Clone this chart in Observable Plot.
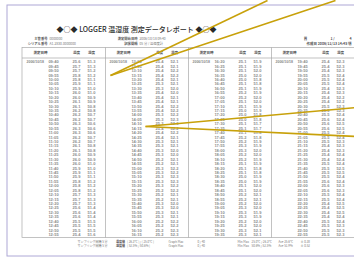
<!DOCTYPE html>
<html><head><meta charset="utf-8">
<script src="https://cdn.jsdelivr.net/npm/d3@7"></script>
<script src="https://cdn.jsdelivr.net/npm/@observablehq/plot@0.6"></script>
<style>html,body{margin:0;padding:0;background:#fff;}</style>
</head><body><div id="chart"></div>
<script>
// ---- data ----
const title = "◆○◆ LOGGER 温湿度 測定データレポート ◆○◆";
const dateLabel = "2006/10/18";
const headerLabels = ["測定日時", "温度", "湿度"];
const times1 = "09:40 09:45 09:50 09:55 10:00 10:05 10:10 10:15 10:20 10:25 10:30 10:35 10:40 10:45 10:50 10:55 11:00 11:05 11:10 11:15 11:20 11:25 11:30 11:35 11:40 11:45 11:50 11:55 12:00 12:05 12:10 12:15 12:20 12:25 12:30 12:35 12:40 12:45 12:50 12:55".split(" ");
const times2 = "13:00 13:05 13:10 13:15 13:20 13:25 13:30 13:35 13:40 13:45 13:50 13:55 14:00 14:05 14:10 14:15 14:20 14:25 14:30 14:35 14:40 14:45 14:50 14:55 15:00 15:05 15:10 15:15 15:20 15:25 15:30 15:35 15:40 15:45 15:50 15:55 16:00 16:05 16:10 16:15".split(" ");
const times3 = "16:20 16:25 16:30 16:35 16:40 16:45 16:50 16:55 17:00 17:05 17:10 17:15 17:20 17:25 17:30 17:35 17:40 17:45 17:50 17:55 18:00 18:05 18:10 18:15 18:20 18:25 18:30 18:35 18:40 18:45 18:50 18:55 19:00 19:05 19:10 19:15 19:20 19:25 19:30 19:35".split(" ");
const times4 = "19:40 19:45 19:50 19:55 20:00 20:05 20:10 20:15 20:20 20:25 20:30 20:35 20:40 20:45 20:50 20:55 21:00 21:05 21:10 21:15 21:20 21:25 21:30 21:35 21:40 21:45 21:50 21:55 22:00 22:05 22:10 22:15 22:20 22:25 22:30 22:35 22:40 22:45 22:50 22:55".split(" ");
const temp1 = [25.6,25.7,25.7,25.8,25.8,25.9,25.9,26.0,26.0,26.1,26.1,26.2,26.2,26.2,26.3,26.3,26.3,26.2,26.2,26.1,26.1,26.0,26.0,26.0,25.9,25.9,25.9,25.8,25.8,25.8,25.7,25.7,25.7,25.6,25.6,25.6,25.5,25.5,25.5,25.4];
const hum1 = [51.3,51.3,51.2,51.2,51.1,51.1,51.0,51.0,50.9,50.9,50.8,50.8,50.7,50.7,50.6,50.6,50.6,50.7,50.7,50.8,50.8,50.9,50.9,51.0,51.0,51.1,51.1,51.2,51.2,51.2,51.3,51.3,51.3,51.4,51.4,51.4,51.5,51.5,51.5,51.6];
const temp2 = [25.4,25.4,25.4,25.4,25.4,25.3,25.3,25.4,25.4,25.4,25.4,25.4,25.3,25.3,25.3,25.4,25.4,25.4,25.3,25.3,25.3,25.3,25.2,25.2,25.3,25.3,25.3,25.3,25.3,25.2,25.2,25.2,25.3,25.3,25.3,25.3,25.2,25.2,25.2,25.2];
const hum2 = [52.1,52.1,52.2,52.2,52.1,52.1,52.0,52.0,52.1,52.1,52.2,52.2,52.2,52.3,52.3,52.2,52.2,52.1,52.1,52.1,52.0,52.0,52.1,52.1,52.2,52.2,52.3,52.3,52.2,52.2,52.1,52.1,52.0,52.0,52.1,52.1,52.2,52.2,52.3,52.3];
const temp3 = [25.1,25.1,25.1,25.0,25.0,25.1,25.1,25.2,25.2,25.1,25.1,25.0,25.0,25.0,25.1,25.1,25.1,25.2,25.2,25.3,25.3,25.2,25.2,25.1,25.1,25.1,25.0,25.0,25.1,25.1,25.2,25.2,25.2,25.3,25.3,25.3,25.2,25.2,25.3,25.3];
const hum3 = [51.9,51.9,52.0,52.0,51.8,51.8,51.9,51.9,52.0,52.0,51.9,51.9,51.8,51.8,51.7,51.7,51.8,51.8,51.9,51.9,52.0,52.0,51.9,51.9,51.8,51.8,51.9,51.9,52.0,52.0,52.1,52.1,52.0,52.0,51.9,51.9,52.0,52.0,52.1,52.1];
const temp4 = [25.4,25.4,25.4,25.5,25.5,25.5,25.4,25.4,25.4,25.4,25.5,25.5,25.5,25.6,25.6,25.6,25.5,25.5,25.5,25.4,25.4,25.4,25.4,25.5,25.5,25.5,25.5,25.6,25.6,25.6,25.5,25.5,25.4,25.4,25.4,25.4,25.5,25.5,25.5,25.5];
const hum4 = [52.3,52.3,52.3,52.4,52.4,52.4,52.3,52.3,52.2,52.2,52.3,52.3,52.4,52.4,52.5,52.5,52.4,52.4,52.3,52.3,52.3,52.4,52.4,52.4,52.5,52.5,52.4,52.4,52.3,52.3,52.4,52.4,52.5,52.5,52.5,52.4,52.4,52.3,52.3,52.3];
const infoLabels = ["主管番号", "シリアル番号", "測定開始日時", "記録間隔"];
const infoValues = ["0000000", "A1-2XXX-0000000", "2006/10/18 09:40", "05 分 / 温湿度計"];
const pageText = ["頁", "1 /", "4"];
const createdText = "作成日 2006/11/13 14:45 頃";
const footer1 = ["サンプリング間隔 5 分", "温度値", "[ 26.3℃ ] / [ 25.0℃ ]", "Graph Max", "0 / 40", "Min Max", "25.0℃ / 26.3℃", "Ave 25.6℃", "± 0.38"];
const footer2 = ["サンプリング間隔 5 分", "湿度値", "[ 52.5% / 50.6% ]", "Graph Max", "0 / 40", "Min Max", "50.6% / 52.5%", "Ave 51.9%", "± 0.52"];

// ---- layout ----
const W = 354, H = 260;
const groupX = [22, 105, 188, 271];
const rowY0 = 61.5, rowDy = 4.43;
const cols = [[times1,temp1,hum1],[times2,temp2,hum2],[times3,temp3,hum3],[times4,temp4,hum4]];
const cells = [];
cols.forEach(([t, te, hu], g) => {
  t.forEach((tm, i) => {
    const y = rowY0 + i * rowDy;
    cells.push({x: groupX[g] + 31, y, text: tm});
    cells.push({x: groupX[g] + 54, y, text: te[i].toFixed(1)});
    cells.push({x: groupX[g] + 69, y, text: hu[i].toFixed(1)});
  });
});
const dates = groupX.map(x => ({x: x + 4, y: rowY0, text: dateLabel}));
const headers = [];
groupX.forEach(x => {
  headers.push({x: x + 18, y: 52.5, text: headerLabels[0]});
  headers.push({x: x + 54, y: 52.5, text: headerLabels[1]});
  headers.push({x: x + 69, y: 52.5, text: headerLabels[2]});
});
const infoL = [{x:47,y:38.5},{x:47,y:43},{x:137,y:38.5},{x:137,y:43}].map((p,i)=>({...p,text:infoLabels[i]}));
const infoV = [{x:49,y:38.5},{x:49,y:43},{x:139,y:38.5},{x:139,y:43}].map((p,i)=>({...p,text:infoValues[i]}));
const pageT = [{x:305,y:38},{x:332,y:38},{x:350,y:38}].map((p,i)=>({...p,text:pageText[i]}));
const footX = [107,115.5,126.5,168,197,237,251,278,300];
const foot = [];
[footer1, footer2].forEach((f, r) => f.forEach((s, i) => foot.push({x: footX[i], y: 241.5 + r*4.5, text: s, kind: i === 0 ? "left" : i === 1 ? "bold" : "plain"})));
const callouts = [
  {x1:110, y1:75, x2:267, y2:0},
  {x1:110, y1:75, x2:335, y2:0},
  {x1:145, y1:126, x2:356, y2:107},
  {x1:145, y1:126, x2:356, y2:136}
];
const jp = "Noto Sans CJK JP";

const chart = Plot.plot({
  width: W, height: H, margin: 0,
  x: {domain: [0, W], range: [0, W], axis: null},
  y: {domain: [0, H], range: [0, H], axis: null},
  style: {background: "#fff"},
  marks: [
    Plot.rect([0], {x1: 7, x2: 360, y1: 5, y2: 256, fill: "none", stroke: "#aea8d6", strokeWidth: 1}),
    Plot.rect([0], {x1: 22, x2: 360, y1: 47.5, y2: 237.5, fill: "none", stroke: "#a8a8a8", strokeWidth: 0.7}),
    Plot.ruleX(groupX.slice(1), {y1: 47.5, y2: 237.5, stroke: "#a8a8a8", strokeWidth: 0.7}),
    Plot.ruleY([57.5], {x1: 22, x2: 360, stroke: "#a8a8a8", strokeWidth: 0.7}),
    Plot.text([title], {x: 136, y: 29, text: d => d, fontSize: 7, fontFamily: jp, fill: "#2a2a2a", fontWeight: 500}),
    Plot.text(infoL, {x: "x", y: "y", text: "text", fontSize: 3.3, fontFamily: jp, fill: "#555", fontWeight: "bold", textAnchor: "end"}),
    Plot.text(infoV, {x: "x", y: "y", text: "text", fontSize: 3.3, fontFamily: jp, fill: "#777", textAnchor: "start"}),
    Plot.text(pageT, {x: "x", y: "y", text: "text", fontSize: 3.5, fontFamily: jp, fill: "#555", fontWeight: "bold"}),
    Plot.text([createdText], {x: 351, y: 43.5, text: d => d, fontSize: 3.5, fontFamily: jp, fill: "#555", textAnchor: "end", fontWeight: "bold"}),
    Plot.text(headers, {x: "x", y: "y", text: "text", fontSize: 3.5, fontFamily: jp, fill: "#555", fontWeight: "bold"}),
    Plot.text(dates, {x: "x", y: "y", text: "text", fontSize: 3.5, fontFamily: "Liberation Sans", fill: "#888", textAnchor: "start", fontWeight: "bold"}),
    Plot.text(cells, {x: "x", y: "y", text: "text", fontSize: 4, fontFamily: "Liberation Sans", fill: "#8c8c8c", fontWeight: "bold"}),
    Plot.text(foot.filter(d => d.kind === "left"), {x: "x", y: "y", text: "text", fontSize: 3, fontFamily: jp, fill: "#777", textAnchor: "end"}),
    Plot.text(foot.filter(d => d.kind === "plain"), {x: "x", y: "y", text: "text", fontSize: 3, fontFamily: jp, fill: "#777", textAnchor: "start"}),
    Plot.text(foot.filter(d => d.kind === "bold"), {x: "x", y: "y", text: "text", fontSize: 3, fontFamily: jp, fill: "#444", fontWeight: "bold", textAnchor: "start"}),
    Plot.link(callouts, {x1: "x1", y1: "y1", x2: "x2", y2: "y2", stroke: "#c8a10a", strokeWidth: 1.6})
  ]
});
document.getElementById("chart").appendChild(chart);
</script>
</body></html>
